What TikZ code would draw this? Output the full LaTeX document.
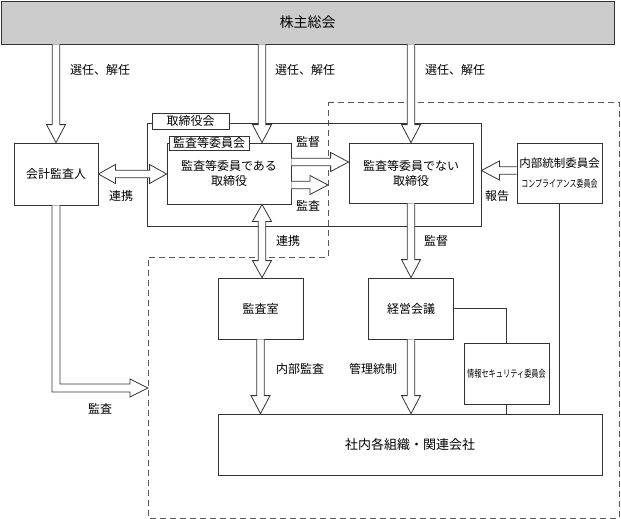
\documentclass[tikz,border=0pt]{standalone}
\usepackage{fontspec}
\usepackage{graphicx}
\setmainfont{Noto Sans CJK JP}
\usetikzlibrary{calc}
\newcommand\harrow[2]{%
  \draw[harrowstyle] let \p1=(#1), \p2=(#2), \n1={atan2(\y2-\y1,\x2-\x1)}, \n2={veclen(\x2-\x1,\y2-\y1)} in
  [shift={(\p1)}, rotate=\n1] (0pt,-3.75pt) -- (\n2-18pt,-3.75pt) -- (\n2-18pt,-9.5pt) -- (\n2,0pt) -- (\n2-18pt,9.5pt) -- (\n2-18pt,3.75pt) -- (0pt,3.75pt);}
\newcommand\dharrow[2]{%
  \draw[harrowstyle] let \p1=(#1), \p2=(#2), \n1={atan2(\y2-\y1,\x2-\x1)}, \n2={veclen(\x2-\x1,\y2-\y1)} in
  [shift={(\p1)}, rotate=\n1] (0pt,0pt) -- (17pt,9.5pt) -- (17pt,3.75pt) -- (\n2-17pt,3.75pt) -- (\n2-17pt,9.5pt) -- (\n2,0pt) -- (\n2-17pt,-9.5pt) -- (\n2-17pt,-3.75pt) -- (17pt,-3.75pt) -- (17pt,-9.5pt) -- cycle;}
\begin{document}
\begin{tikzpicture}[x=1pt,y=-1pt, font=\fontsize{12}{15}\selectfont,
  box/.style={draw=black!80, fill=white, line width=0.8pt, inner sep=0pt, align=center},
  harrowstyle/.style={draw=black!80, fill=white, line width=0.8pt, line join=miter},
  lbl/.style={inner sep=0pt, align=center},
  conn/.style={draw=black!80, line width=0.8pt},
  region/.style={draw=black!65, line width=0.8pt, dash pattern=on 6pt off 4pt}]
\useasboundingbox (0,0) rectangle (621,519);
% dashed region
\coordinate (r1) at (328,102);
\coordinate (r2) at (619,102);
\coordinate (r3) at (619,518);
\coordinate (r4) at (148,518);
\coordinate (r5) at (148,257);
\coordinate (r6) at (328,257);
\draw[region] (r1) -- (r2) -- (r3) -- (r4) -- (r5) -- (r6) -- cycle;
% helper coordinates
\coordinate (colA) at (262,0);
\coordinate (dashX) at (328,0);
\coordinate (yS) at (0,162);
\coordinate (yA) at (0,185);
\coordinate (yR) at (0,170.5);
\coordinate (tipK) at (148,388);
% boxes
\node[box, fill=gray!40, minimum width=613pt, minimum height=43pt, font=\fontsize{14}{16}\selectfont] (kabu) at (307.5,22.5) {株主総会};
\node[box, fill=none, minimum width=334pt, minimum height=103pt] (board) at (314,174.5) {};
\node[box, minimum width=77pt, minimum height=16pt] (boardlbl) at (190.5,121) {取締役会};
\node[box, minimum width=84pt, minimum height=62pt] (kaikei) at (56,174) {会計監査人};
\node[box, minimum width=124pt, minimum height=61pt] (dirA) at (229,173.5) {監査等委員である\\取締役};
\node[box, minimum width=80pt, minimum height=14pt] (commlbl) at (209,143) {監査等委員会};
\node[box, minimum width=124pt, minimum height=60pt] (dirB) at (411,173) {監査等委員でない\\取締役};
\node[box, minimum width=85pt, minimum height=60pt] (naibu) at (559.5,173) {};
\node[lbl, font=\fontsize{11.5}{13}\selectfont] (naibuT) at (559.5,163) {内部統制委員会};
\node[lbl, font=\fontsize{10}{12}\selectfont] (compT) at (559.5,184) {\scalebox{0.7}[1]{コンプライアンス委員会}};
\node[box, minimum width=85pt, minimum height=61pt] (kansa) at (260.5,308.5) {監査室};
\node[box, minimum width=85pt, minimum height=61pt] (keiei) at (411,308.5) {経営会議};
\node[box, minimum width=85pt, minimum height=61pt, font=\fontsize{10}{12}\selectfont] (joho) at (506.5,373.5) {\scalebox{0.72}[1]{情報セキュリティ委員会}};
\node[box, minimum width=384pt, minimum height=61pt, font=\fontsize{13}{15}\selectfont] (shanai) at (410,444.5) {社内各組織・関連会社};
% hollow arrows
\harrow{kabu.south -| kaikei.north}{kaikei.north}
\harrow{kabu.south -| colA}{dirA.north -| colA}
\harrow{kabu.south -| dirB.north}{dirB.north}
\harrow{dirA.east |- yS}{dirB.west |- yS}
\harrow{dirA.east |- yA}{dashX |- yA}
\harrow{naibu.west |- yR}{board.east |- yR}
\dharrow{kaikei.east}{dirA.west |- kaikei.east}
\dharrow{dirA.south -| colA}{kansa.north -| colA}
\harrow{dirB.south}{keiei.north}
\harrow{kansa.south}{kansa.south |- shanai.north}
\harrow{keiei.south}{keiei.south |- shanai.north}
\draw[harrowstyle] ($(kaikei.south)+(-4,0)$) |- ($(tipK)+(-18,4)$) -- ($(tipK)+(-18,9)$) -- (tipK) -- ($(tipK)+(-18,-9)$) -- ($(tipK)+(-18,-4)$) -| ($(kaikei.south)+(4,0)$);
% plain lines
\draw[conn] (naibu.south) -- (naibu.south |- shanai.north);
\draw[conn] (keiei.east) -| (joho.north);
\draw[conn] (joho.south) -- (joho.south |- shanai.north);
% labels
\node[lbl] (sel1) at (100,70) {選任、解任};
\node[lbl] (sel2) at (305,70) {選任、解任};
\node[lbl] (sel3) at (455,70) {選任、解任};
\node[lbl] (renkei1) at (121,196) {連携};
\node[lbl] (kantoku1) at (308,142) {監督};
\node[lbl] (kansa1) at (308,206) {監査};
\node[lbl] (hokoku) at (497,196) {報告};
\node[lbl] (renkei2) at (288,241) {連携};
\node[lbl] (kantoku2) at (436,241) {監督};
\node[lbl] (naibukansa) at (300,369) {内部監査};
\node[lbl] (kanri) at (373,369) {管理統制};
\node[lbl] (kansa2) at (100,409) {監査};
\end{tikzpicture}
\end{document}
